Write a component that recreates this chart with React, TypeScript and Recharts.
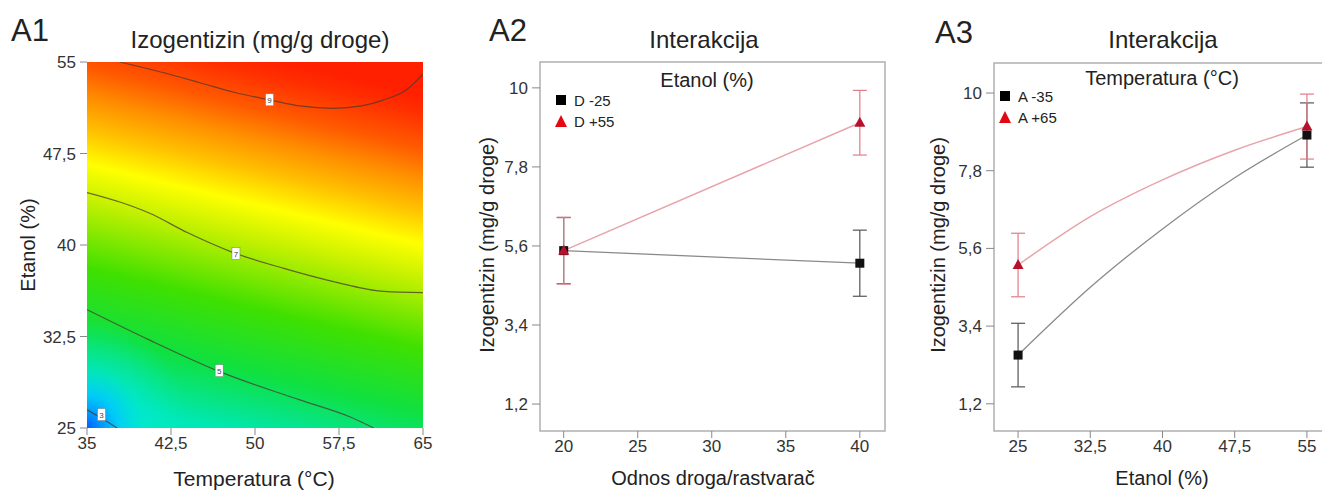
import React from 'react'
import { ComposedChart, Line, Scatter, XAxis, YAxis, ReferenceArea, ErrorBar } from 'recharts'

const FONT = '"Liberation Sans", Arial, sans-serif'

// ---- A1: contour plot (Temperatura x Etanol) ----
const tempTicks = [35, 42.5, 50, 57.5, 65]
const etanolTicks = [25, 32.5, 40, 47.5, 55]
const contour9 = [
  { x: 37.9, y: 55 }, { x: 41.5, y: 54.2 }, { x: 45.1, y: 53.3 }, { x: 48.2, y: 52.5 },
  { x: 51.3, y: 51.9 }, { x: 54, y: 51.4 }, { x: 57, y: 51.2 }, { x: 59.5, y: 51.4 },
  { x: 61.5, y: 51.9 }, { x: 63.5, y: 52.7 }, { x: 65, y: 54 },
]
const contour7 = [
  { x: 35, y: 44.3 }, { x: 38, y: 43.5 }, { x: 40.6, y: 42.6 }, { x: 44, y: 41 },
  { x: 48, y: 39.4 }, { x: 52.5, y: 38.1 }, { x: 57, y: 37 }, { x: 61.5, y: 36.2 }, { x: 65, y: 36.1 },
]
const contour5 = [
  { x: 35, y: 34.7 }, { x: 40.6, y: 32.2 }, { x: 46.9, y: 29.6 }, { x: 54, y: 27.3 },
  { x: 58.5, y: 25.9 }, { x: 60.6, y: 25 },
]
const contour3 = [{ x: 35, y: 26.5 }, { x: 36.3, y: 25.8 }, { x: 37.7, y: 25 }]
const contourLabels = [
  { x: 51.3, y: 51.9, label: '9' },
  { x: 48.3, y: 39.3, label: '7' },
  { x: 46.8, y: 29.7, label: '5' },
  { x: 36.3, y: 26.1, label: '3' },
]

// ---- A2: interakcija, Odnos droga/rastvarač ----
const odnosTicks = [20, 25, 30, 35, 40]
const izoTicks = [1.2, 3.4, 5.6, 7.8, 10]
const a2Names = ['D -25', 'D +55']
const a2Low = [{ x: 20, y: 5.47, err: 0.92 }, { x: 40, y: 5.12, err: 0.92 }]
const a2High = [{ x: 20, y: 5.47, err: 0.93 }, { x: 40, y: 9.03, err: 0.9 }]

// ---- A3: interakcija, Etanol ----
const a3Ticks = [25, 32.5, 40, 47.5, 55]
const a3Names = ['A -35', 'A +65']
const a3LowCurve = [
  { x: 25, y: 2.58 }, { x: 32.5, y: 4.5 }, { x: 40, y: 6.15 }, { x: 47.5, y: 7.6 }, { x: 55, y: 8.81 },
]
const a3HighCurve = [
  { x: 25, y: 5.13 }, { x: 32.5, y: 6.5 }, { x: 40, y: 7.54 }, { x: 47.5, y: 8.38 }, { x: 55, y: 9.05 },
]
const a3Low = [{ x: 25, y: 2.58, err: 0.9 }, { x: 55, y: 8.81, err: 0.91 }]
const a3High = [{ x: 25, y: 5.13, err: 0.9 }, { x: 55, y: 9.05, err: 0.92 }]

const comma = (v: number) => String(v).replace('.', ',')
const tickStyle = { fontSize: 17, fill: '#333', fontFamily: FONT }

const Square = (p: any) => <rect x={p.cx - 4.5} y={p.cy - 4.5} width={9} height={9} fill="#111" />
const Tri = (p: any) => (
  <path d={`M${p.cx},${p.cy - 6} L${p.cx + 5.5},${p.cy + 4} L${p.cx - 5.5},${p.cy + 4} Z`} fill="#b5122b" />
)
const ContourTag = (p: any) => (
  <g>
    <rect x={p.cx - 4} y={p.cy - 6} width={8} height={12} fill="#fff" stroke="#777" strokeWidth={0.5} />
    <text x={p.cx} y={p.cy + 3} fontSize={8} textAnchor="middle" fill="#444" fontFamily={FONT}>
      {p.payload.label}
    </text>
  </g>
)

function Txt({ x, y, size, rotate, children }: any) {
  return (
    <div
      style={{
        position: 'absolute', left: x, top: y, fontSize: size, whiteSpace: 'nowrap', lineHeight: 1,
        transform: `translate(-50%,-50%)${rotate ? ' rotate(-90deg)' : ''}`,
      }}
    >
      {children}
    </div>
  )
}

function LegendRow({ x, y, kind, name }: any) {
  return (
    <div style={{ position: 'absolute', left: x, top: y - 8, height: 16, display: 'flex', alignItems: 'center', fontSize: 15 }}>
      <svg width={14} height={14} style={{ marginRight: 6 }}>
        {kind === 'sq' ? <rect x={2} y={2} width={10} height={10} fill="#000" /> : <path d="M7,1 L13,13 L1,13 Z" fill="#e30613" />}
      </svg>
      {name}
    </div>
  )
}

function PanelA1() {
  return (
    <div style={{ position: 'absolute', left: 0, top: 0 }}>
      <ComposedChart width={440} height={492} margin={{ top: 62, right: 17, bottom: 34, left: 27 }}>
        <defs>
          <linearGradient id="heat" x1="0.37" y1="1" x2="0.59" y2="0">
            <stop offset="0" stopColor="#00e8b8" />
            <stop offset="0.17" stopColor="#10e040" />
            <stop offset="0.34" stopColor="#40e000" />
            <stop offset="0.51" stopColor="#c0f000" />
            <stop offset="0.61" stopColor="#ffff00" />
            <stop offset="0.7" stopColor="#ffc000" />
            <stop offset="0.78" stopColor="#ff9000" />
            <stop offset="0.86" stopColor="#ff5a00" />
            <stop offset="0.95" stopColor="#ff3000" />
            <stop offset="1" stopColor="#ff2000" />
          </linearGradient>
          <radialGradient id="cold" cx="0" cy="1" r="0.3">
            <stop offset="0" stopColor="#0060ff" stopOpacity="1" />
            <stop offset="0.12" stopColor="#0090ff" stopOpacity="1" />
            <stop offset="0.3" stopColor="#00c8ff" stopOpacity="0.9" />
            <stop offset="0.55" stopColor="#00e8e0" stopOpacity="0.5" />
            <stop offset="1" stopColor="#00f0c0" stopOpacity="0" />
          </radialGradient>
        </defs>
        <XAxis dataKey="x" type="number" domain={[35, 65]} ticks={tempTicks} tickFormatter={comma}
          tick={tickStyle} tickLine={{ stroke: '#888' }} tickSize={7} axisLine={false} allowDataOverflow />
        <YAxis dataKey="y" type="number" domain={[25, 55]} ticks={etanolTicks} tickFormatter={comma}
          tick={tickStyle} tickLine={{ stroke: '#888' }} tickSize={7} tickMargin={4} axisLine={false} allowDataOverflow />
        <ReferenceArea x1={35} x2={65} y1={25} y2={55} fill="url(#heat)" fillOpacity={1} />
        <ReferenceArea x1={35} x2={65} y1={25} y2={55} fill="url(#cold)" fillOpacity={1} />
        {[contour9, contour7, contour5, contour3].map((c, i) => (
          <Line key={i} data={c} dataKey="y" type="monotone" stroke="#4a3a30" strokeOpacity={0.75}
            strokeWidth={1.2} dot={false} isAnimationActive={false} />
        ))}
        <Scatter data={contourLabels} dataKey="y" shape={ContourTag} isAnimationActive={false} />
      </ComposedChart>
      <Txt x={30} y={30} size={31}>A1</Txt>
      <Txt x={260} y={40} size={24}>Izogentizin (mg/g droge)</Txt>
      <Txt x={28} y={245} size={20} rotate>Etanol (%)</Txt>
      <Txt x={254} y={478} size={21}>Temperatura (°C)</Txt>
    </div>
  )
}

function PanelA2() {
  const xd = [18.4, 41.7]
  const yd = [0.45, 10.72]
  return (
    <div style={{ position: 'absolute', left: 460, top: 0, width: 440, height: 492 }}>
      <ComposedChart width={440} height={492} margin={{ top: 62, right: 15, bottom: 31, left: 20 }}>
        <XAxis dataKey="x" type="number" domain={xd} ticks={odnosTicks} tick={tickStyle}
          tickLine={{ stroke: '#888' }} tickSize={7} axisLine={false} allowDataOverflow />
        <YAxis dataKey="y" type="number" domain={yd} ticks={izoTicks} tickFormatter={comma} tick={tickStyle}
          tickLine={{ stroke: '#888' }} tickSize={8} tickMargin={4} axisLine={false} allowDataOverflow />
        <ReferenceArea x1={xd[0]} x2={xd[1]} y1={yd[0]} y2={yd[1]} fill="none" stroke="#b0b0b0" strokeWidth={1.5} />
        <Line data={a2Low} dataKey="y" type="linear" stroke="#8a8a8a" strokeWidth={1.3} dot={false} isAnimationActive={false} />
        <Line data={a2High} dataKey="y" type="linear" stroke="#e8a4aa" strokeWidth={1.5} dot={false} isAnimationActive={false} />
        <Scatter data={a2Low} dataKey="y" shape={Square} isAnimationActive={false}>
          <ErrorBar dataKey="err" direction="y" width={7} stroke="#555" strokeWidth={1.2} />
        </Scatter>
        <Scatter data={a2High} dataKey="y" shape={Tri} isAnimationActive={false}>
          <ErrorBar dataKey="err" direction="y" width={7} stroke="#e07c88" strokeWidth={1.2} />
        </Scatter>
      </ComposedChart>
      <LegendRow x={94} y={100} kind="sq" name={a2Names[0]} />
      <LegendRow x={94} y={121} kind="tri" name={a2Names[1]} />
      <Txt x={247} y={80} size={20}>Etanol (%)</Txt>
      <Txt x={48} y={30} size={31}>A2</Txt>
      <Txt x={244} y={40} size={24}>Interakcija</Txt>
      <Txt x={27} y={245} size={20} rotate>Izogentizin (mg/g droge)</Txt>
      <Txt x={253} y={478} size={20}>Odnos droga/rastvarač</Txt>
    </div>
  )
}

function PanelA3() {
  const xd = [22.5, 57.5]
  const yd = [0.43, 10.85]
  return (
    <div style={{ position: 'absolute', left: 900, top: 0, width: 440, height: 492 }}>
      <ComposedChart width={440} height={492} margin={{ top: 63, right: 9, bottom: 31, left: 34 }}>
        <XAxis dataKey="x" type="number" domain={xd} ticks={a3Ticks} tickFormatter={comma} tick={tickStyle}
          tickLine={{ stroke: '#888' }} tickSize={7} axisLine={false} allowDataOverflow />
        <YAxis dataKey="y" type="number" domain={yd} ticks={izoTicks} tickFormatter={comma} tick={tickStyle}
          tickLine={{ stroke: '#888' }} tickSize={8} tickMargin={4} axisLine={false} allowDataOverflow />
        <ReferenceArea x1={xd[0]} x2={xd[1]} y1={yd[0]} y2={yd[1]} fill="none" stroke="#b0b0b0" strokeWidth={1.5} />
        <Line data={a3LowCurve} dataKey="y" type="monotone" stroke="#8a8a8a" strokeWidth={1.3} dot={false} isAnimationActive={false} />
        <Line data={a3HighCurve} dataKey="y" type="monotone" stroke="#e8a4aa" strokeWidth={1.5} dot={false} isAnimationActive={false} />
        <Scatter data={a3Low} dataKey="y" shape={Square} isAnimationActive={false}>
          <ErrorBar dataKey="err" direction="y" width={7} stroke="#555" strokeWidth={1.2} />
        </Scatter>
        <Scatter data={a3High} dataKey="y" shape={Tri} isAnimationActive={false}>
          <ErrorBar dataKey="err" direction="y" width={7} stroke="#e07c88" strokeWidth={1.2} />
        </Scatter>
      </ComposedChart>
      <LegendRow x={98} y={96} kind="sq" name={a3Names[0]} />
      <LegendRow x={98} y={117} kind="tri" name={a3Names[1]} />
      <Txt x={262} y={78} size={20}>Temperatura (°C)</Txt>
      <Txt x={54} y={32} size={31}>A3</Txt>
      <Txt x={263} y={40} size={24}>Interakcija</Txt>
      <Txt x={38} y={245} size={20} rotate>Izogentizin (mg/g droge)</Txt>
      <Txt x={262} y={478} size={20}>Etanol (%)</Txt>
    </div>
  )
}

export default function App() {
  return (
    <div style={{ position: 'absolute', left: 0, top: 0, width: 1322, height: 492, overflow: 'hidden', background: '#fff', fontFamily: FONT, color: '#222' }}>
      <PanelA1 />
      <PanelA2 />
      <PanelA3 />
    </div>
  )
}
